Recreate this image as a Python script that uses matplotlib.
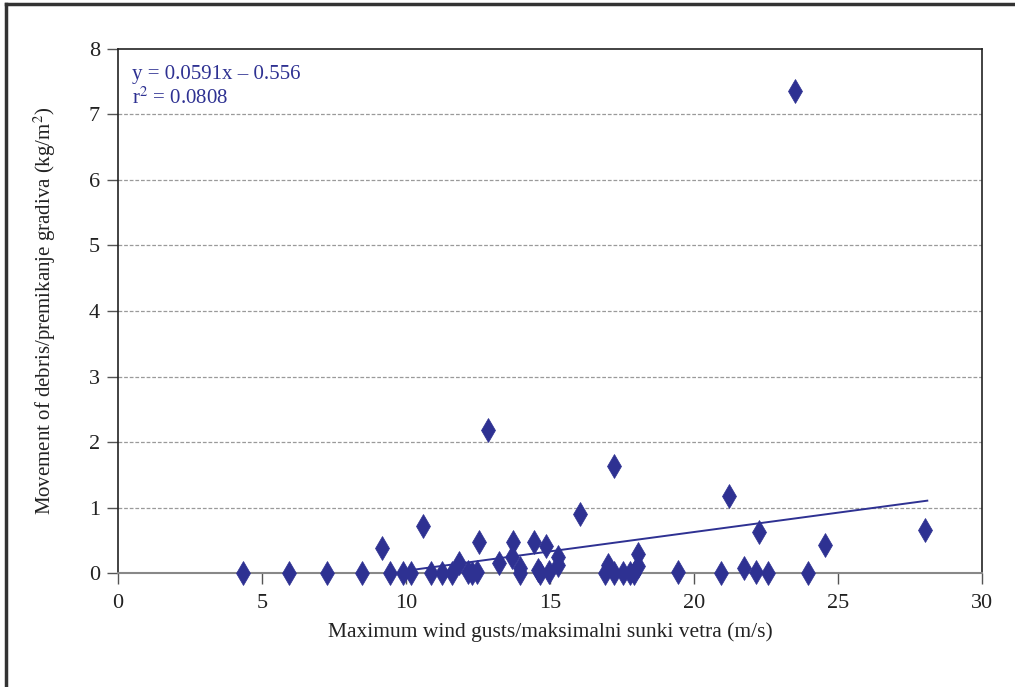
import numpy as np
import matplotlib
matplotlib.use('Agg')
import matplotlib.pyplot as plt
from matplotlib.lines import Line2D

plt.rcParams['font.family'] = ['Liberation Serif', 'DejaVu Serif']
plt.rcParams['mathtext.fontset'] = 'stix'

# wind gusts (m/s) and debris movement (kg/m2)
gusts = [4.35, 5.95, 7.27, 8.47, 9.17, 9.44, 9.88, 10.16, 10.58, 10.86,
         11.26, 11.58, 11.85, 12.16, 12.3, 12.45, 12.55, 12.86, 13.24, 13.67,
         13.73, 13.96, 13.96, 14.46, 14.57, 14.65, 14.85, 14.98, 15.27, 15.27,
         16.04, 16.9, 17.03, 17.22, 17.23, 17.55, 17.78, 17.9, 18.07, 18.07,
         19.46, 20.93, 21.23, 21.75, 22.14, 22.26, 22.56, 23.5, 23.97, 24.55,
         28.03]
debris = [0.0, 0.0, 0.0, 0.0, 0.38, 0.0, 0.0, 0.0, 0.72, 0.0,
          0.0, 0.0, 0.16, 0.02, 0.0, 0.02, 0.48, 2.18, 0.15, 0.24,
          0.48, 0.07, 0.0, 0.48, 0.05, 0.0, 0.42, 0.01, 0.25, 0.12,
          0.9, 0.0, 0.12, 0.0, 1.64, 0.0, 0.0, 0.0, 0.11, 0.29,
          0.01, 0.0, 1.18, 0.07, 0.01, 0.63, 0.0, 7.36, 0.0, 0.43,
          0.66]

slope, intercept = 0.0591, -0.556
fit_x = [10.1, 28.1]

blue = '#2E3192'

fig = plt.figure(figsize=(10.15, 6.87), dpi=100)
ax = fig.add_axes([0.1163, 0.1659, 0.8512, 0.7628])

for yv in range(1, 8):
    ax.axhline(yv, color='#9a9a9a', lw=0.9, ls=(0, (3, 1.5)), zorder=0)

ax.plot(gusts, debris, ls='none', marker='d', ms=12, mfc=blue, mec=blue,
        mew=0.5, zorder=3, clip_on=False)
fx = np.array(fit_x)
ax.plot(fx, slope * fx + intercept, color=blue, lw=1.4, zorder=2)

ax.set_xlim(0, 30)
ax.set_ylim(0, 8)
ax.set_xticks(range(0, 31, 5))
ax.set_yticks(range(0, 9))
ax.tick_params(direction='out', length=8, width=1, labelsize=16,
               color='#555555', labelcolor='#222222')
ax.tick_params(axis='x', pad=7)
ax.tick_params(axis='y', pad=5)
for s in ['top', 'right', 'left']:
    ax.spines[s].set_color('#222222')
    ax.spines[s].set_linewidth(1.2)
ax.spines['bottom'].set_color('#888888')
ax.spines['bottom'].set_linewidth(1.5)

ax.set_xlabel('Maximum wind gusts/maksimalni sunki vetra (m/s)', fontsize=15.5,
              labelpad=7, color='#222222')
ax.set_ylabel('Movement of debris/premikanje gradiva (kg/m$^2$)', fontsize=15,
              labelpad=22, color='#222222')

ax.text(0.016, 0.97, 'y = 0.0591x – 0.556\nr$^2$ = 0.0808', transform=ax.transAxes,
        ha='left', va='top', fontsize=15, color=blue, linespacing=1.25)

# outer frame (left and top edges)
fig.add_artist(Line2D([0.0055, 0.0055], [0.0, 0.9945], transform=fig.transFigure,
                      color='#333333', lw=2.5))
fig.add_artist(Line2D([0.0055, 1.0], [0.9945, 0.9945], transform=fig.transFigure,
                      color='#333333', lw=2.5))

fig.savefig('out.png', dpi=100)
